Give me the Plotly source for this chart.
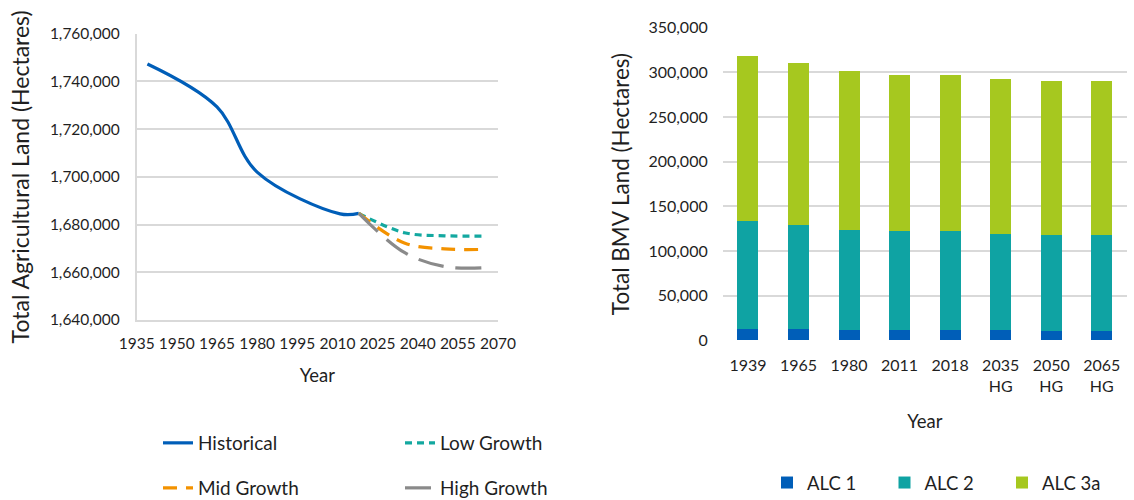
import plotly.graph_objects as go

# ---------- Left chart data ----------
hist_years = [1939, 1965, 1980, 2011, 2018]
hist_vals = [1747300, 1729300, 1702000, 1684500, 1684700]

proj_years = [2018, 2035, 2050, 2065]
low_vals = [1684700, 1676600, 1675300, 1675200]
mid_vals = [1684700, 1672300, 1669800, 1669600]
high_vals = [1684700, 1668300, 1662400, 1661900]

# ---------- Right chart data ----------
bar_cats = ["1939", "1965", "1980", "2011", "2018", "2035<br>HG", "2050<br>HG", "2065<br>HG"]
alc1 = [12700, 12700, 11600, 11600, 11600, 11600, 10400, 10400]
alc2 = [120900, 116400, 111900, 110800, 110800, 107400, 107500, 107500]
alc3a = [184700, 181350, 178000, 174600, 174600, 173500, 172400, 172400]

FONT = "Lato, Calibri, Carlito, sans-serif"
TXT = "#1F1F1F"
GRID = "#D9D9D9"

fig = go.Figure()

fig.add_trace(go.Scatter(x=hist_years, y=hist_vals, mode="lines", name="Historical",
                         line=dict(color="#005EB8", width=3.2, shape="spline", smoothing=1.0),
                         legend="legend"))
fig.add_trace(go.Scatter(x=proj_years, y=low_vals, mode="lines", name="Low Growth",
                         line=dict(color="#13A8A0", width=3.2, shape="spline", dash="7px,5px"),
                         legend="legend"))
fig.add_trace(go.Scatter(x=proj_years, y=mid_vals, mode="lines", name="Mid Growth",
                         line=dict(color="#F39200", width=3.2, shape="spline", dash="14px,9px"),
                         legend="legend2"))
fig.add_trace(go.Scatter(x=proj_years, y=high_vals, mode="lines", name="High Growth",
                         line=dict(color="#8A8A8A", width=3.2, shape="spline", dash="26px,12px"),
                         legend="legend2"))

fig.add_trace(go.Bar(x=bar_cats, y=alc1, name="ALC 1", marker=dict(color="#005EB8", line=dict(width=0)),
                     xaxis="x2", yaxis="y2", legend="legend3"))
fig.add_trace(go.Bar(x=bar_cats, y=alc2, name="ALC 2", marker=dict(color="#0FA3A3", line=dict(width=0)),
                     xaxis="x2", yaxis="y2", legend="legend3"))
fig.add_trace(go.Bar(x=bar_cats, y=alc3a, name="ALC 3a", marker=dict(color="#A6C81F", line=dict(width=0)),
                     xaxis="x2", yaxis="y2", legend="legend3"))

W, H = 1134, 500

fig.update_layout(
    width=W, height=H,
    margin=dict(l=0, r=0, t=0, b=0, autoexpand=False),
    paper_bgcolor="white", plot_bgcolor="white",
    font=dict(family=FONT, color=TXT, size=15),
    barmode="stack", bargap=0.584,
    showlegend=True,
    xaxis=dict(domain=[136.7 / W, 498 / W], range=[1935, 2070], tick0=1935, dtick=15,
               showgrid=False, showline=True, linecolor=GRID, linewidth=1.5, zeroline=False,
               ticks="", ticklabelstandoff=9, tickfont=dict(size=15.5), automargin=False,
               title=dict(text="Year", font=dict(size=18.5), standoff=18)),
    yaxis=dict(domain=[1 - 320 / H, 1 - 33.7 / H], range=[1640000, 1760000], dtick=20000,
               tickformat=",d", showgrid=True, gridcolor=GRID, gridwidth=1.5,
               showline=True, linecolor=GRID, linewidth=1.5, zeroline=False,
               ticks="", ticklabelstandoff=12, tickfont=dict(size=15.5), automargin=False,
               title=dict(text="Total Agricultural Land (Hectares)", font=dict(size=23), standoff=14)),
    xaxis2=dict(domain=[722.7 / W, 1127 / W], anchor="y2", type="category",
                showgrid=False, showline=False, zeroline=False, ticks="", automargin=False,
                ticklabelstandoff=14, tickfont=dict(size=16),
                title=dict(text="Year", font=dict(size=18.5), standoff=20)),
    yaxis2=dict(domain=[1 - 340.3 / H, 1 - 27.7 / H], anchor="x2", range=[0, 350000], dtick=50000,
                tickformat=",d", showgrid=True, gridcolor=GRID, gridwidth=1.5, automargin=False,
                showline=False, zeroline=False, ticks="", ticklabelstandoff=14,
                tickfont=dict(size=16),
                title=dict(text="Total BMV Land (Hectares)", font=dict(size=22.5), standoff=12)),
    legend=dict(orientation="h", x=158 / W, xanchor="left", y=1 - 443 / H, yanchor="middle",
                entrywidth=197, font=dict(size=19), bgcolor="rgba(0,0,0,0)", itemwidth=30),
    legend2=dict(orientation="h", x=158 / W, xanchor="left", y=1 - 488 / H, yanchor="middle",
                 entrywidth=197, font=dict(size=19), bgcolor="rgba(0,0,0,0)", itemwidth=30),
    legend3=dict(orientation="h", x=767 / W, xanchor="left", y=1 - 483 / H, yanchor="middle",
                 entrywidth=72.5, font=dict(size=18.5), bgcolor="rgba(0,0,0,0)", itemwidth=30,
                 traceorder="normal"),
)

fig.write_html("out.html", config={"displayModeBar": False},
               post_script="document.body.style.margin='0px';")
